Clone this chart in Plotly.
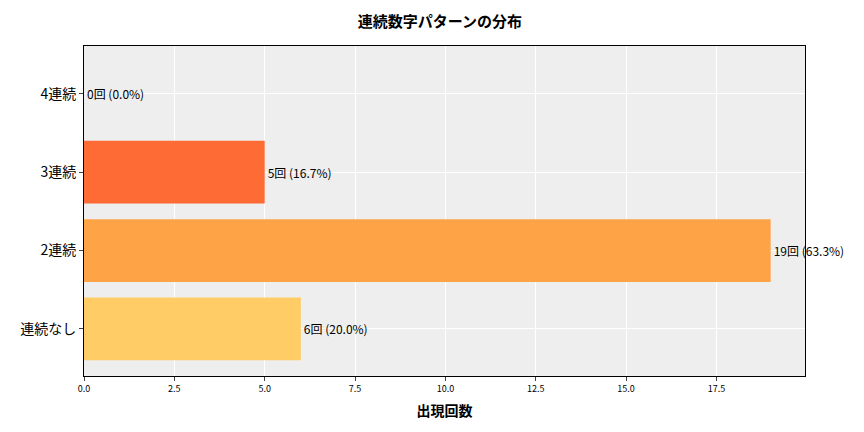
import plotly.graph_objects as go

categories = ['連続なし', '2連続', '3連続', '4連続']
counts = [6, 19, 5, 0]
percents = [20.0, 63.3, 16.7, 0.0]
colors = ['#FFCC66', '#FFA347', '#FF6B35', '#FF4500']

labels = [f'{c}回 ({p:.1f}%)' for c, p in zip(counts, percents)]

fig = go.Figure()
fig.add_trace(go.Bar(
    x=counts, y=categories, orientation='h',
    marker=dict(color=colors, line=dict(width=0)),
    width=0.8,
    text=labels, textposition='outside', cliponaxis=False,
    textfont=dict(size=12, color='black'),
))

fig.update_layout(
    width=864, height=432,
    font=dict(family='Noto Sans CJK JP', color='black'),
    title=dict(text='<b>連続数字パターンの分布</b>', x=0.5, y=0.968, xanchor='center',
               yanchor='middle', font=dict(size=15)),
    plot_bgcolor='#EEEEEE', paper_bgcolor='white',
    margin=dict(l=70, r=67, t=38, b=64),
    showlegend=False,
    xaxis=dict(range=[0, 19.95], dtick=2.5, tickformat='.1f', showgrid=True,
               gridcolor='white', gridwidth=1, ticks='outside', ticklen=4,
               tickfont=dict(size=9), showline=True, linecolor='black', mirror=True,
               zeroline=False,
               title=dict(text='<b>出現回数</b>', font=dict(size=14), standoff=12)),
    yaxis=dict(range=[-0.6, 3.61], showgrid=True, gridcolor='white',
               ticks='outside', ticklen=4, tickfont=dict(size=14),
               showline=True, linecolor='black', mirror=True),
)

fig.write_html('out.html')
